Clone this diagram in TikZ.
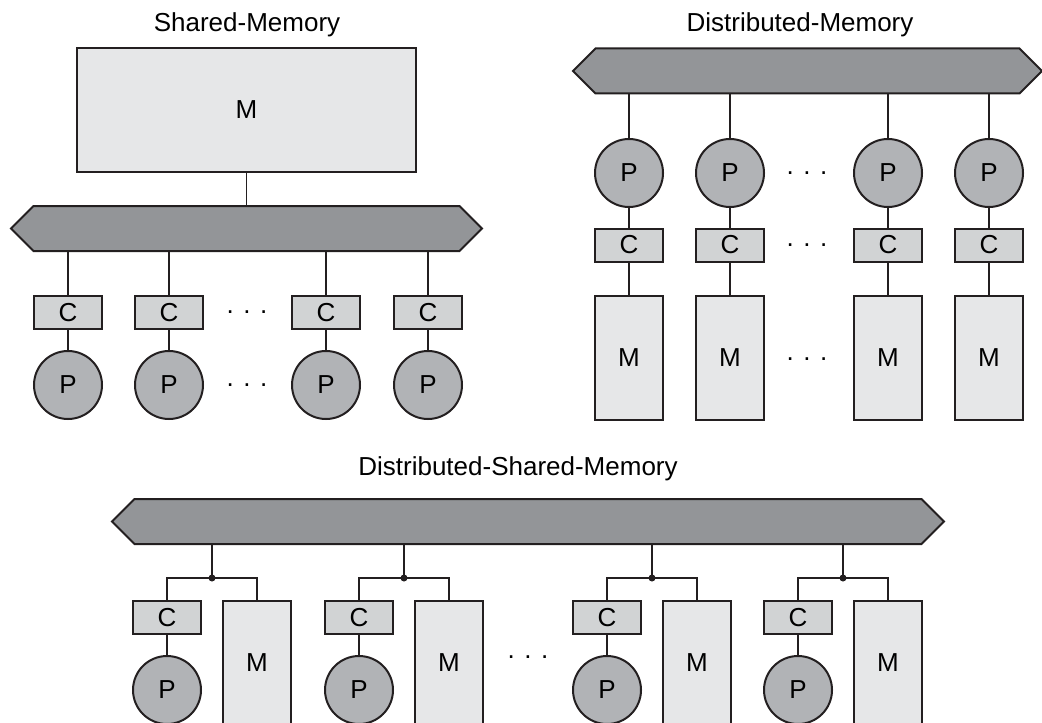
\documentclass[tikz,border=0pt]{standalone}
\usepackage{fontspec}
\setmainfont{Liberation Sans}
\usetikzlibrary{shapes.symbols}
\definecolor{busGray}{HTML}{939598}
\definecolor{procGray}{HTML}{B1B3B6}
\definecolor{cacheGray}{HTML}{D1D3D4}
\definecolor{memGray}{HTML}{E6E7E8}
\definecolor{lineDark}{HTML}{231F20}

\begin{document}
\begin{tikzpicture}[x=0.5pt,y=-0.5pt,
        font=\fontsize{13}{15}\selectfont,
        bus/.style={signal, signal to=west and east, signal pointer angle=90, draw=lineDark, fill=busGray, line width=1pt, minimum height=22.5pt, inner sep=0pt},
        memory/.style={rectangle, draw=lineDark, fill=memGray, line width=1pt, inner sep=0pt},
        cache/.style={rectangle, draw=lineDark, fill=cacheGray, line width=1pt, minimum width=34pt, minimum height=16.5pt, inner sep=0pt},
        processor/.style={circle, draw=lineDark, fill=procGray, line width=1pt, minimum size=34pt, inner sep=0pt},
        link/.style={draw=lineDark, line width=0.75pt},
        junction/.style={circle, fill=lineDark, inner sep=0pt, minimum size=3.5pt},
        ellipsis/.style={inner sep=0pt},
    ]
        \useasboundingbox (0,0) rectangle (1042,722);
        \clip (0,0) rectangle (1042,722);

        %Nodes: shared memory
        \node (smTitle) at (247,25) {Shared-Memory};
        \node[memory, minimum width=169.5pt, minimum height=62pt] (smMem) at (246.5,110) {M};
        \node[bus, minimum width=235.5pt] (smBus) at (246.5,228.5) {};
        \node[cache] (smCache1) at (68,312.5) {C};
        \node[cache] (smCache2) at (169,312.5) {C};
        \node[cache] (smCache3) at (326,312.5) {C};
        \node[cache] (smCache4) at (428,312.5) {C};
        \node[processor] (smProc1) at (68,385) {P};
        \node[processor] (smProc2) at (169,385) {P};
        \node[processor] (smProc3) at (326,385) {P};
        \node[processor] (smProc4) at (428,385) {P};
        \node[ellipsis] (smCacheDots) at (247,312) {. . .};
        \node[ellipsis] (smProcDots) at (247,385) {. . .};

        %Nodes: distributed memory
        \node (dmTitle) at (800,25) {Distributed-Memory};
        \node[bus, minimum width=234.5pt] (dmBus) at (807.5,71) {};
        \node[processor] (dmProc1) at (629,173) {P};
        \node[processor] (dmProc2) at (730,173) {P};
        \node[processor] (dmProc3) at (888,173) {P};
        \node[processor] (dmProc4) at (989,173) {P};
        \node[cache] (dmCache1) at (629,245) {C};
        \node[cache] (dmCache2) at (730,245) {C};
        \node[cache] (dmCache3) at (888,245) {C};
        \node[cache] (dmCache4) at (989,245) {C};
        \node[memory, minimum width=34pt, minimum height=62pt] (dmMem1) at (629,358) {M};
        \node[memory, minimum width=34pt, minimum height=62pt] (dmMem2) at (730,358) {M};
        \node[memory, minimum width=34pt, minimum height=62pt] (dmMem3) at (888,358) {M};
        \node[memory, minimum width=34pt, minimum height=62pt] (dmMem4) at (989,358) {M};
        \node[ellipsis] (dmProcDots) at (807,173) {. . .};
        \node[ellipsis] (dmCacheDots) at (807,245) {. . .};
        \node[ellipsis] (dmMemDots) at (807,359) {. . .};

        %Nodes: distributed shared memory
        \node (dsmTitle) at (518,469) {Distributed-Shared-Memory};
        \node[bus, minimum width=416pt] (dsmBus) at (528,521.5) {};
        \node[junction] (dsmJoin1) at (212,578) {};
        \node[junction] (dsmJoin2) at (404,578) {};
        \node[junction] (dsmJoin3) at (652,578) {};
        \node[junction] (dsmJoin4) at (843,578) {};
        \node[cache] (dsmCache1) at (167,617.5) {C};
        \node[cache] (dsmCache2) at (359,617.5) {C};
        \node[cache] (dsmCache3) at (607,617.5) {C};
        \node[cache] (dsmCache4) at (798,617.5) {C};
        \node[processor] (dsmProc1) at (167,690) {P};
        \node[processor] (dsmProc2) at (359,690) {P};
        \node[processor] (dsmProc3) at (607,690) {P};
        \node[processor] (dsmProc4) at (798,690) {P};
        \node[memory, minimum width=34pt, minimum height=62pt] (dsmMem1) at (257,663) {M};
        \node[memory, minimum width=34pt, minimum height=62pt] (dsmMem2) at (449,663) {M};
        \node[memory, minimum width=34pt, minimum height=62pt] (dsmMem3) at (697,663) {M};
        \node[memory, minimum width=34pt, minimum height=62pt] (dsmMem4) at (888,663) {M};
        \node[ellipsis] (dsmDots) at (528,657) {. . .};

        %Lines
        \draw[link] (smMem.south) -- (smMem.south |- smBus.north);
        \draw[link] (smCache1 |- smBus.south) -- (smCache1);
        \draw[link] (smCache2 |- smBus.south) -- (smCache2);
        \draw[link] (smCache3 |- smBus.south) -- (smCache3);
        \draw[link] (smCache4 |- smBus.south) -- (smCache4);
        \draw[link] (smCache1) -- (smProc1);
        \draw[link] (smCache2) -- (smProc2);
        \draw[link] (smCache3) -- (smProc3);
        \draw[link] (smCache4) -- (smProc4);

        \draw[link] (dmProc1 |- dmBus.south) -- (dmProc1);
        \draw[link] (dmProc2 |- dmBus.south) -- (dmProc2);
        \draw[link] (dmProc3 |- dmBus.south) -- (dmProc3);
        \draw[link] (dmProc4 |- dmBus.south) -- (dmProc4);
        \draw[link] (dmProc1) -- (dmCache1);
        \draw[link] (dmProc2) -- (dmCache2);
        \draw[link] (dmProc3) -- (dmCache3);
        \draw[link] (dmProc4) -- (dmCache4);
        \draw[link] (dmCache1) -- (dmMem1);
        \draw[link] (dmCache2) -- (dmMem2);
        \draw[link] (dmCache3) -- (dmMem3);
        \draw[link] (dmCache4) -- (dmMem4);

        \draw[link] (dsmJoin1 |- dsmBus.south) -- (dsmJoin1.center);
        \draw[link] (dsmJoin2 |- dsmBus.south) -- (dsmJoin2.center);
        \draw[link] (dsmJoin3 |- dsmBus.south) -- (dsmJoin3.center);
        \draw[link] (dsmJoin4 |- dsmBus.south) -- (dsmJoin4.center);
        \draw[link] (dsmJoin1.center) -| (dsmCache1.north);
        \draw[link] (dsmJoin2.center) -| (dsmCache2.north);
        \draw[link] (dsmJoin3.center) -| (dsmCache3.north);
        \draw[link] (dsmJoin4.center) -| (dsmCache4.north);
        \draw[link] (dsmJoin1.center) -| (dsmMem1.north);
        \draw[link] (dsmJoin2.center) -| (dsmMem2.north);
        \draw[link] (dsmJoin3.center) -| (dsmMem3.north);
        \draw[link] (dsmJoin4.center) -| (dsmMem4.north);
        \draw[link] (dsmCache1) -- (dsmProc1);
        \draw[link] (dsmCache2) -- (dsmProc2);
        \draw[link] (dsmCache3) -- (dsmProc3);
        \draw[link] (dsmCache4) -- (dsmProc4);
    \end{tikzpicture}
\end{document}
